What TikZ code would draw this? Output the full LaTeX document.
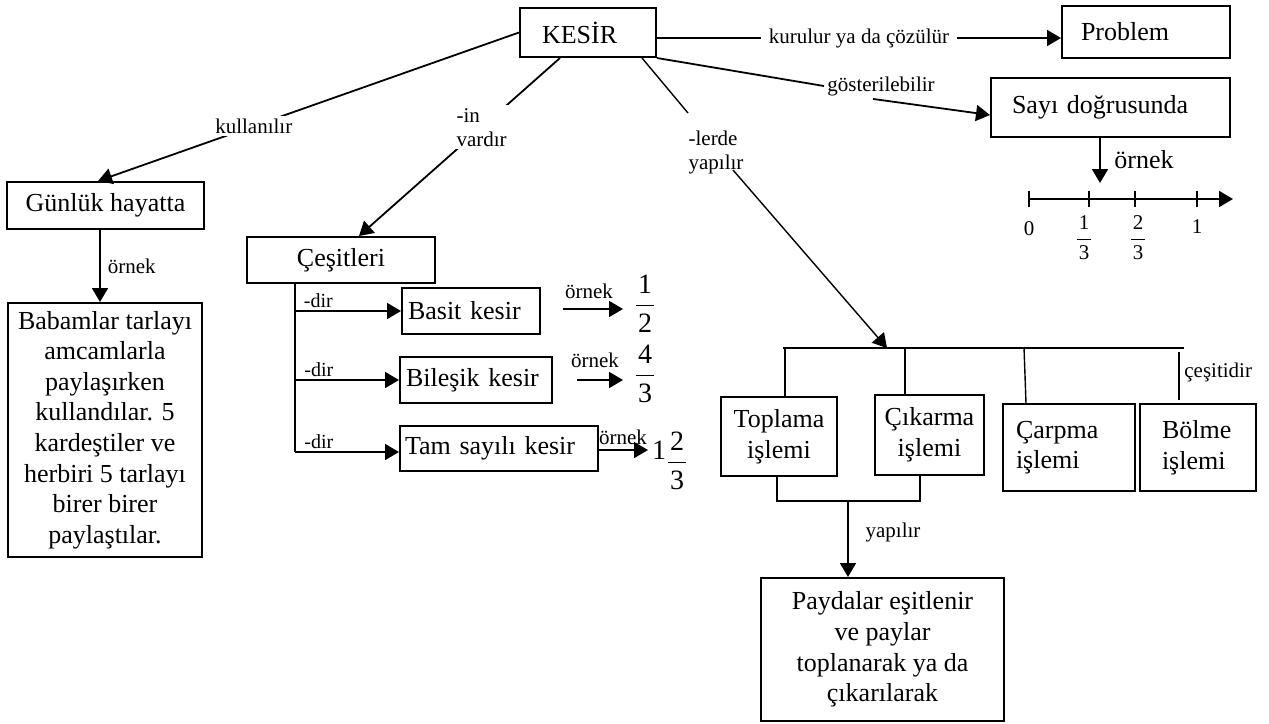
\documentclass[tikz,border=0pt]{standalone}
\usepackage{amsmath}
\usepackage{fontspec}
\setmainfont{Liberation Serif}
\usetikzlibrary{arrows.meta,calc}

\newcommand\boxfont{\fontsize{13}{15.3}\selectfont}
\newcommand\lblfont{\fontsize{10.5}{12}\selectfont}
\newcommand\dirfont{\fontsize{10}{11}\selectfont}
\newcommand\bigofont{\fontsize{13}{15}\selectfont}
\newcommand\fracfont{\fontsize{14}{16}\selectfont}
\newcommand\kfrac[2]{$\dfrac{\kern0.8pt\textrm{#1}\kern0.8pt}{\kern0.8pt\textrm{#2}\kern0.8pt}$}

\begin{document}
\begin{tikzpicture}[x=0.5pt,y=-0.5pt,
  box/.style={draw, line width=1pt, inner sep=0pt, font=\boxfont, align=center},
  lbox/.style={box, align=left},
  conn/.style={line width=0.9pt},
  thinconn/.style={line width=0.7pt},
  arr/.style={line width=0.9pt, -{Triangle[length=7pt,width=8pt]}},
  thinarr/.style={line width=0.7pt, -{Triangle[length=7pt,width=8pt]}},
  lbl/.style={font=\lblfont, inner sep=1.5pt},
  dirlbl/.style={font=\dirfont, inner sep=1pt},
  fracnode/.style={font=\fracfont, inner sep=0pt},
  nlfrac/.style={font=\lblfont, inner sep=0pt},
]
\useasboundingbox (0,0) rectangle (1269,723);

% ---- concept boxes ----
\node[lbox, text width=46pt, inner xsep=11pt, minimum height=24.5pt] (kesir) at (588,32.5) {KESİR};
\node[lbox, text width=65pt, inner xsep=9.5pt, minimum height=26pt] (problem) at (1146,32) {Problem};
\node[lbox, text width=98.5pt, inner xsep=10.5pt, minimum height=29.5pt] (sayi) at (1110.5,107.5) {Sayı doğrusunda};
\node[box, minimum width=98.5pt, minimum height=23.5pt] (gunluk) at (105.5,205.5) {Günlük hayatta};
\node[box, minimum width=97pt, minimum height=127pt] (babam) at (105,430)
  {Babamlar tarlayı\\amcamlarla\\paylaşırken\\kullandılar. 5\\kardeştiler ve\\herbiri 5 tarlayı\\birer birer\\paylaştılar.};
\node[box, minimum width=94pt, minimum height=23pt] (cesit) at (341,260) {Çeşitleri};
\node[lbox, text width=63pt, inner xsep=3pt, minimum height=23pt] (basit) at (471,311) {Basit kesir};
\node[lbox, text width=70pt, inner xsep=3pt, minimum height=23pt] (bilesik) at (476,380) {Bileşik kesir};
\node[lbox, text width=94pt, inner xsep=2.5pt, minimum height=22.5pt] (tam) at (499,448.5) {Tam sayılı kesir};
\node[box, minimum width=58pt, minimum height=39.5pt] (toplama) at (779,436.5) {Toplama\\işlemi};
\node[box, minimum width=54.5pt, minimum height=40pt] (cikarma) at (929.5,435) {Çıkarma\\işlemi};
\node[lbox, text width=53pt, inner xsep=6.5pt, minimum height=43.5pt] (carpma) at (1069,447.5) {Çarpma\\işlemi};
\node[lbox, text width=36pt, inner xsep=11pt, minimum height=43.5pt] (bolme) at (1198,447.5) {Bölme\\işlemi};
\node[box, minimum width=121.5pt, minimum height=71.5pt] (payda) at (882.5,649.5)
  {Paydalar eşitlenir\\ve paylar\\toplanarak ya da\\çıkarılarak};

% ---- links leaving KESİR ----
\draw[arr] (kesir.west) -- node[lbl, fill=white, pos=0.63] {kullanılır} ([xshift=-3.75pt]gunluk.north);
\draw[arr] ([xshift=-14pt]kesir.south) -- node[lbl, fill=white, align=left, pos=0.39] {-in\\vardır} ([xshift=9pt]cesit.north);
\draw[arr] ($(kesir.east)+(0,5.5)$) -- node[lbl, fill=white, inner xsep=4pt] {kurulur ya da çözülür} ($(problem.west)+(0,6)$);

\node[lbl] (gost) at (881,86) {gösterilebilir};
\draw[conn] (kesir.south east) -- (gost.west);
\draw[arr] ([xshift=-4pt]gost.south) -- ($(sayi.west)+(0,7.5)$);

\node[lbl, align=left] (lerde) at (716,152) {-lerde\\yapılır};
\coordinate (ld1) at (688,113);
\coordinate (ld2) at (733,170);
\coordinate (barl) at (783,348);
\coordinate (barr) at (1184,348);
\coordinate (bart) at (887,348);
\draw[thinconn] ([xshift=27pt]kesir.south) -- (ld1);
\draw[thinarr] (ld2) -- (bart);

% ---- operations ----
\draw[conn] (barl) -- (barr);
\draw[conn] ([xshift=3pt]toplama.north) -- ++(0,-49);
\draw[conn] ([xshift=-12.25pt]cikarma.north) -- ++(0,-47);
\draw[thinconn] ([xshift=-21.5pt]carpma.north) -- ++(-2,-56);
\draw[thinconn] ([xshift=-9.5pt]bolme.north) ++(0,-3) -- ++(0,-48);
\node[lbl, anchor=west] at (1181,372) {çeşitidir};

\draw[conn] ([xshift=-1pt]toplama.south) -- ++(0,24) -| ([xshift=-4.75pt]cikarma.south);
\coordinate (jn) at (848,500);
\draw[arr] (jn) -- (jn |- payda.north);
\node[lbl] at (893,532) {yapılır};

% ---- everyday example ----
\draw[arr] ([xshift=-2.75pt]gunluk.south) -- node[lbl, right, xshift=2pt] {örnek} ([xshift=-2.5pt]babam.north);

% ---- kinds of fractions ----
\coordinate (trtop) at ([xshift=-23pt]cesit.south);
\draw[conn] (trtop) -- ($(trtop |- tam.west)+(0,3.5)$);
\draw[arr] (trtop |- basit.west) -- node[dirlbl, above, pos=0.22] {-dir} (basit.west);
\draw[arr] (trtop |- bilesik.west) -- node[dirlbl, above, pos=0.23] {-dir} (bilesik.west);
\draw[arr] ($(trtop |- tam.west)+(0,3.5)$) -- node[dirlbl, above, pos=0.23] {-dir} ($(tam.west)+(0,3.5)$);

\coordinate (o1s) at (563,309);
\coordinate (o2s) at (577,380);
\draw[arr] (o1s) -- ++(60,0);
\draw[arr] (o2s) -- ++(46,0);
\draw[arr] ($(tam.east)+(0,1.5)$) -- ++(49,0);
\node[lbl] at (589,291) {örnek};
\node[lbl] at (595,360) {örnek};
\node[lbl] at (623,437) {örnek};
\node[fracnode] (f1) at (645,304) {\kfrac{1}{2}};
\node[fracnode] (f2) at (645,374) {\kfrac{4}{3}};
\node[fracnode] (f3) at (670,461) {\raisebox{5.5pt}{1}\kfrac{2}{3}};

% ---- number line ----
\draw[arr] ([xshift=-5.25pt]sayi.south) -- ++(0,45);
\node[font=\bigofont, inner sep=1pt] at (1144,160) {örnek};
\coordinate (n0) at (1029,199);
\draw[arr] (n0) -- (1233,199);
\foreach \t in {1029,1089,1135,1197} \draw[conn] (\t,191) -- (\t,207);
\node[nlfrac] at (1029,229) {0};
\node[nlfrac] at (1084,238) {\kfrac{1}{3}};
\node[nlfrac] at (1138,238) {\kfrac{2}{3}};
\node[nlfrac] at (1197,227) {1};
\end{tikzpicture}
\end{document}
